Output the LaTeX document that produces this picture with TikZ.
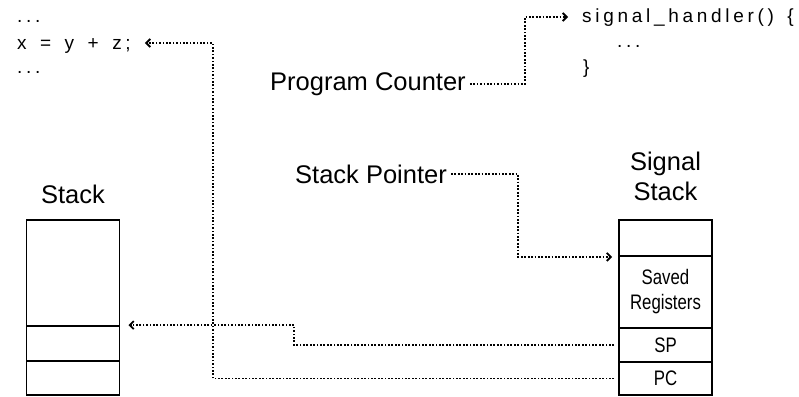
\documentclass[tikz,border=0pt]{standalone}
\usepackage{fontspec}
\setmainfont{Liberation Sans}
\newfontfamily\narrowfont[FakeStretch=0.8]{Liberation Sans}
\newfontfamily\codefont[LetterSpace=19.5, WordSpace=1.5]{Liberation Sans}
\usetikzlibrary {arrows.meta}

\begin{document}
\begin{tikzpicture}[x=1pt, y=-1pt,
  cell/.style={draw, line width=1.8pt, minimum width=93pt, inner sep=0pt,
    font=\narrowfont\fontsize{21}{25}\selectfont},
  label/.style={inner sep=0pt, font=\fontsize{25.5}{30}\selectfont},
  code/.style={inner sep=0pt, anchor=base west, font=\codefont\fontsize{19}{20}\selectfont},
  link/.style={line width=1.7pt, dash pattern=on 1.7pt off 1.7pt,
    -{Straight Barb[length=4pt, width=8pt, line width=1.8pt]}}]

\useasboundingbox (0,0) rectangle (799,396);

\node[code] (dotsup) at (17,23) {...};
\node[code] (xline) at (17,49) {x = y + z;};
\node[code] (dotsdown) at (17,73) {...};
\node[code] (handler) at (582,23) {signal\_handler() \{};
\node[code] (handlerdots) at (617,48) {...};
\node[code] (handlerend) at (583,74) {\}};

\node[label, anchor=base west] (pcl) at (270,90) {Program Counter};
\node[label, anchor=base west] (spl) at (295,183) {Stack Pointer};
\node[label, anchor=base] (stklabel) at (73,203) {Stack};
\node[label] (siglabel) at (665.5,179) {\begin{tabular}{c} Signal\\Stack \end{tabular}};

\node[cell, minimum height=106pt] (stktop) at (73,273) {};
\node[cell, minimum height=35pt] (stkmid) at (73,343.5) {};
\node[cell, minimum height=34pt] (stkbot) at (73,378) {};

\node[cell, minimum height=36pt] (sigtop) at (665.5,238) {};
\node[cell, minimum height=72pt] (saved) at (665.5,292) {\begin{tabular}{c} Saved\\Registers \end{tabular}};
\node[cell, minimum height=34pt] (sp) at (665.5,345) {SP};
\node[cell, minimum height=33pt] (pc) at (665.5,378.5) {PC};

\draw[link] ([xshift=4pt]pcl.east) -- ++(55,0) |- ([xshift=-14pt,yshift=6pt]handler.base west);
\draw[link] ([xshift=4pt]spl.east) -- ++(67,0) |- ([xshift=-6pt]sigtop.south west);
\draw[link] ([xshift=-4pt]sp.west) -- ++(-320,0) |- ([xshift=8pt]stkmid.north east);
\draw[link] ([xshift=-4pt]pc.west) -| ([xshift=82pt,yshift=6pt]xline.base east) -- ([xshift=14pt,yshift=6pt]xline.base east);

\end{tikzpicture}
\end{document}
